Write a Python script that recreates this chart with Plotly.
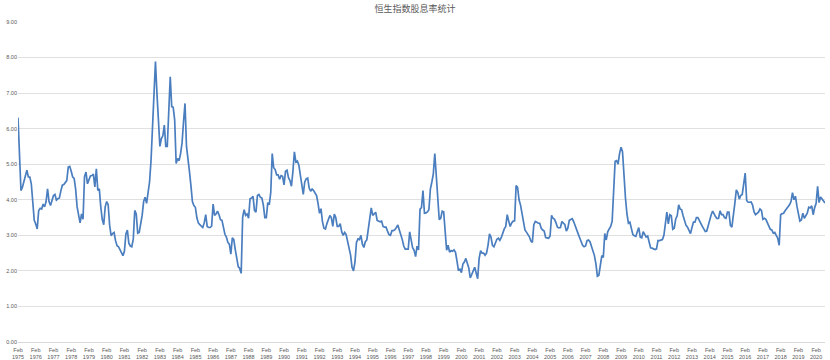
import plotly.graph_objects as go

# Monthly dividend yield (%), starting Feb 1975
yield_1975_1979 = [
    6.31, 5.20, 4.26, 4.35, 4.50, 4.62, 4.83, 4.64, 4.64, 4.45, 3.95, 3.42,
    3.32, 3.18, 3.70, 3.76, 3.74, 3.88, 3.80, 3.95, 4.31, 3.95, 3.84, 3.98,
    4.12, 4.15, 3.99, 4.03, 4.05, 4.25, 4.41, 4.43, 4.50, 4.54, 4.92, 4.94,
    4.80, 4.64, 4.60, 4.30, 3.80, 3.60, 3.35, 3.60, 3.45, 4.65, 4.78, 4.45,
    4.57, 4.67, 4.68, 4.72, 4.36, 4.87, 4.26, 4.31, 3.80, 3.45, 3.30, 3.80,
]
yield_1980_1984 = [
    3.95, 3.86, 3.28, 2.99, 3.05, 3.08, 2.85, 2.71, 2.68, 2.60, 2.49, 2.43,
    2.55, 3.04, 3.15, 2.78, 2.70, 2.68, 2.90, 3.70, 3.60, 3.06, 3.08, 3.30,
    3.56, 3.95, 4.07, 3.90, 4.22, 4.50, 5.10, 5.90, 7.00, 7.89, 7.00, 6.20,
    5.50, 5.72, 5.80, 6.10, 5.50, 5.50, 6.60, 7.46, 6.62, 6.60, 6.25, 5.02,
    5.16, 5.10, 5.30, 5.60, 6.20, 6.71, 5.50, 5.20, 4.80, 4.40, 3.95, 3.84,
]
yield_1985_1989 = [
    3.79, 3.50, 3.35, 3.30, 3.25, 3.22, 3.35, 3.58, 3.25, 3.22, 3.22, 3.26,
    3.88, 3.56, 3.60, 3.68, 3.58, 3.44, 3.42, 3.25, 3.03, 2.95, 2.80, 2.75,
    2.47, 2.93, 2.88, 2.60, 2.30, 2.12, 2.07, 1.93, 3.51, 3.72, 3.56, 3.60,
    3.48, 4.03, 4.05, 4.10, 3.70, 3.65, 4.12, 4.15, 4.07, 4.05, 3.85, 3.50,
    3.50, 3.92, 3.86, 4.20, 5.30, 4.90, 4.85, 4.70, 4.70, 4.58, 4.68, 4.66,
]
yield_1990_1994 = [
    4.42, 4.80, 4.83, 4.62, 4.54, 4.38, 4.80, 5.35, 5.06, 5.09, 4.98, 4.70,
    4.30, 4.15, 4.50, 4.59, 4.61, 4.33, 4.24, 4.30, 4.26, 4.18, 4.12, 3.90,
    3.62, 3.75, 3.38, 3.20, 3.18, 3.33, 3.45, 3.56, 3.50, 3.25, 3.60, 3.50,
    3.25, 3.25, 3.33, 3.10, 3.00, 3.08, 3.02, 2.80, 2.57, 2.45, 2.10, 2.00,
    2.25, 2.80, 2.90, 2.88, 3.00, 2.75, 2.66, 2.82, 2.87, 3.20, 3.40, 3.77,
]
yield_1995_1999 = [
    3.56, 3.60, 3.65, 3.42, 3.40, 3.38, 3.40, 3.25, 3.23, 3.23, 3.12, 3.02,
    3.00, 3.13, 3.13, 3.16, 3.22, 3.29, 3.15, 3.03, 2.88, 2.70, 2.61, 2.61,
    2.61, 3.10, 2.90, 2.65, 2.58, 2.40, 2.70, 2.59, 3.74, 3.78, 4.26, 3.62,
    3.63, 3.66, 3.72, 4.30, 4.50, 4.73, 5.30, 4.75, 4.00, 3.44, 3.48, 3.68,
    3.66, 3.15, 2.58, 2.72, 2.53, 2.57, 2.55, 2.59, 2.52, 2.28, 2.01, 2.05,
]
yield_2000_2004 = [
    1.95, 2.19, 2.25, 2.35, 2.20, 2.08, 1.80, 1.88, 2.00, 2.10, 1.90, 1.78,
    2.35, 2.57, 2.50, 2.50, 2.44, 2.50, 2.72, 3.04, 2.95, 2.72, 2.68, 2.80,
    2.89, 2.92, 2.86, 2.94, 3.09, 3.18, 3.25, 3.58, 3.40, 3.25, 3.35, 3.40,
    3.41, 4.40, 4.35, 4.00, 3.85, 3.60, 3.38, 3.15, 3.09, 3.02, 2.96, 2.84,
    2.80, 3.30, 3.39, 3.37, 3.34, 3.34, 3.20, 3.15, 3.12, 2.94, 2.93, 2.92,
]
yield_2005_2009 = [
    2.98, 3.56, 3.48, 3.45, 3.35, 3.23, 3.21, 3.22, 3.39, 3.35, 3.30, 3.12,
    3.20, 3.42, 3.45, 3.47, 3.38, 3.25, 3.15, 3.04, 2.93, 2.83, 2.72, 2.68,
    2.70, 2.85, 2.87, 2.82, 2.68, 2.54, 2.43, 2.20, 1.85, 1.88, 2.13, 2.43,
    2.38, 3.05, 2.87, 3.10, 3.18, 3.25, 3.40, 4.20, 5.08, 5.10, 5.00, 5.30,
    5.48, 5.35, 4.60, 4.05, 3.60, 3.34, 3.37, 3.22, 3.02, 2.99, 2.97, 3.10,
]
yield_2010_2014 = [
    3.22, 2.95, 2.93, 3.10, 3.02, 2.95, 2.98, 2.78, 2.65, 2.64, 2.62, 2.60,
    2.62, 2.85, 2.85, 2.86, 2.88, 3.00, 3.30, 3.65, 3.32, 3.58, 3.55, 3.17,
    3.20, 3.46, 3.55, 3.86, 3.74, 3.72, 3.55, 3.39, 3.28, 3.23, 3.14, 3.05,
    3.22, 3.37, 3.37, 3.50, 3.50, 3.43, 3.34, 3.25, 3.18, 3.11, 3.12, 3.29,
    3.40, 3.58, 3.68, 3.58, 3.52, 3.47, 3.48, 3.69, 3.58, 3.58, 3.50, 3.48,
]
yield_2015_2020 = [
    3.65, 3.65, 3.28, 3.23, 3.50, 3.90, 4.28, 4.20, 4.02, 4.12, 4.15, 4.55,
    4.75, 3.98, 3.93, 3.93, 3.94, 3.85, 3.66, 3.58, 3.61, 3.65, 3.74, 3.70,
    3.45, 3.48, 3.45, 3.34, 3.27, 3.17, 3.15, 3.06, 3.08, 2.98, 2.92, 2.72,
    3.58, 3.61, 3.62, 3.69, 3.74, 3.79, 3.86, 3.95, 4.20, 4.00, 4.10, 3.82,
    3.65, 3.40, 3.43, 3.62, 3.48, 3.55, 3.62, 3.79, 3.77, 3.83, 3.58, 3.78,
    3.90, 4.38, 3.92, 4.08, 4.03, 3.97, 3.91,
]

tick_years = list(range(1975, 2021))
y_ticks = [0, 1, 2, 3, 4, 5, 6, 7, 8, 9]
title_text = "恒生指数股息率统计"

values = (yield_1975_1979 + yield_1980_1984 + yield_1985_1989 + yield_1990_1994
          + yield_1995_1999 + yield_2000_2004 + yield_2005_2009 + yield_2010_2014
          + yield_2015_2020)
x_idx = list(range(len(values)))
tick_vals = [12 * i for i in range(len(tick_years))]
tick_text = [f"Feb<br>{y}" for y in tick_years]

fig = go.Figure()
fig.add_trace(go.Scatter(
    x=x_idx, y=values, mode="lines",
    line=dict(color="#4a7ebf", width=1.7),
    hoverinfo="y",
))

fig.update_layout(
    width=830, height=360,
    margin=dict(l=18, r=5, t=22, b=18, autoexpand=False),
    paper_bgcolor="white", plot_bgcolor="white",
    showlegend=False,
    title=dict(text=title_text, x=0.5, xanchor="center", y=0.975, yanchor="middle",
               font=dict(family="Noto Sans CJK SC", size=9, color="#595959")),
    font=dict(family="Liberation Sans, Arial", color="#595959", size=6),
)
fig.update_xaxes(
    range=[0, len(values) - 1],
    tickmode="array", tickvals=tick_vals, ticktext=tick_text,
    showgrid=False, zeroline=False, automargin=False,
    showline=True, linecolor="#d9d9d9", linewidth=1,
    ticks="", ticklabelstandoff=2, tickfont=dict(size=5.5, color="#595959"),
)
fig.update_yaxes(
    range=[0, 9], automargin=False,
    tickmode="array", tickvals=y_ticks, ticktext=[f"{v:.2f}" for v in y_ticks],
    showgrid=True, gridcolor="#e0e0e0", gridwidth=1,
    zeroline=False, showline=False, ticks="",
    tickfont=dict(size=5.5, color="#595959"),
)

fig.write_html("out.html")
